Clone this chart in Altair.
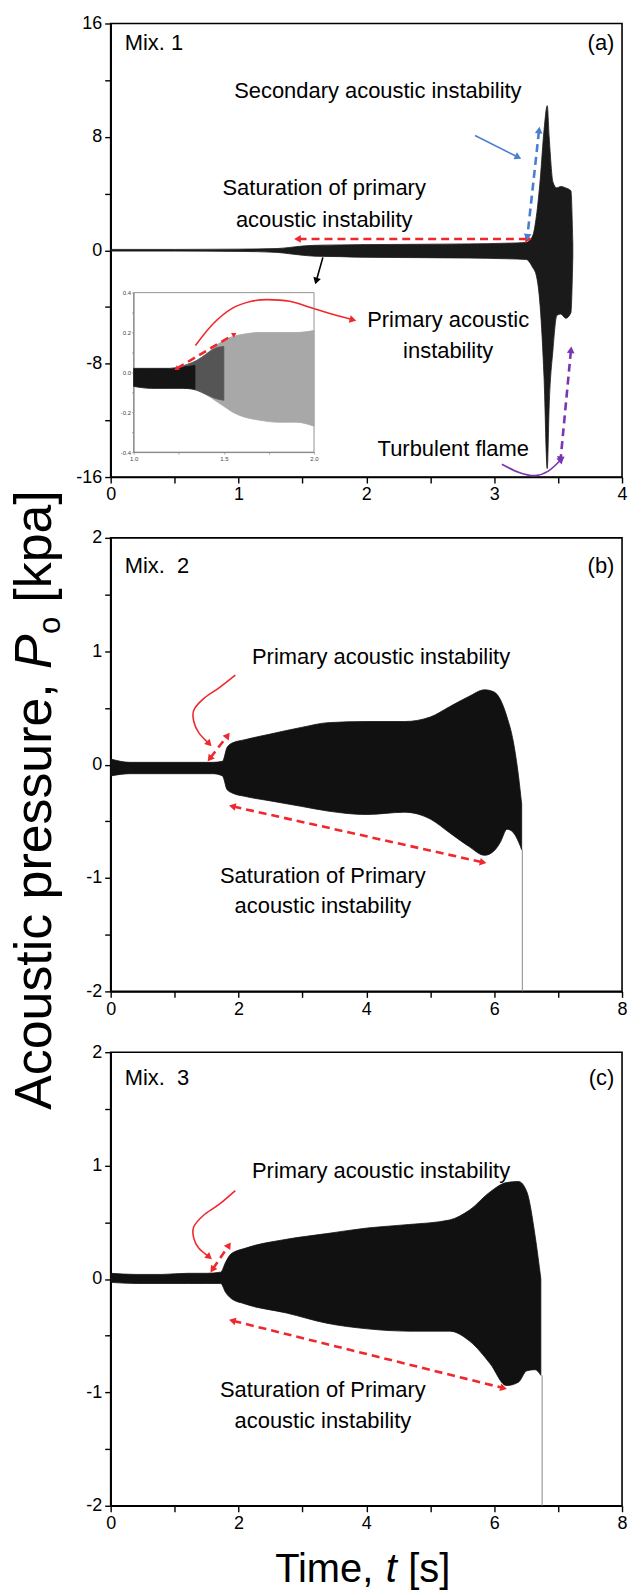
import math
import altair as alt
import pandas as pd

FONT = "Liberation Sans"
W, H = 513, 455
GAP = 61
RED, BLUE, PURPLE = "#f0282d", "#4a7fd0", "#7a35b0"

# ---------------- Panel (a): Mix. 1  (envelope of the trace, kPa) ----------------
a_time = [0.0, 0.5, 1.0, 1.3, 1.4, 1.5, 1.6, 1.8, 2.0, 2.4, 2.8, 3.1, 3.25, 3.30,
          3.33, 3.36, 3.39, 3.415, 3.43, 3.46, 3.49, 3.52, 3.56, 3.60, 3.615]
a_upper = [0.06, 0.06, 0.08, 0.12, 0.2, 0.3, 0.35, 0.38, 0.4, 0.42, 0.45, 0.5, 0.55, 1.0,
           2.4, 5.0, 8.5, 10.2, 8.0, 4.8, 4.4, 4.5, 4.4, 4.2, 0.5]
a_lower = [-0.06, -0.06, -0.08, -0.15, -0.25, -0.35, -0.42, -0.45, -0.5, -0.52, -0.55, -0.6, -0.65, -1.2,
           -1.8, -4.0, -9.0, -15.4, -11.0, -7.0, -4.6, -4.5, -4.8, -4.4, -0.5]

# inset of panel (a): zoom 1.0-2.0 s
ins_time = [1.0, 1.1, 1.2, 1.25, 1.3, 1.35, 1.4, 1.45, 1.5, 1.55, 1.6, 1.7, 1.8, 1.9, 2.0]
ins_upper = [0.02, 0.02, 0.02, 0.025, 0.04, 0.06, 0.09, 0.13, 0.16, 0.18, 0.19, 0.2, 0.2, 0.2, 0.21]
ins_lower = [-0.07, -0.08, -0.08, -0.08, -0.08, -0.09, -0.11, -0.14, -0.17, -0.2, -0.22, -0.24, -0.25, -0.25, -0.27]
ins_mid_time = [1.28, 1.35, 1.4, 1.45, 1.5]
ins_mid_upper = [0.035, 0.06, 0.09, 0.12, 0.13]
ins_mid_lower = [-0.08, -0.09, -0.11, -0.13, -0.14]
ins_dense_time = [1.0, 1.1, 1.2, 1.25, 1.3, 1.34]
ins_dense_upper = [0.02, 0.02, 0.02, 0.025, 0.03, 0.035]
ins_dense_lower = [-0.07, -0.08, -0.08, -0.08, -0.08, -0.085]

# ---------------- Panel (b): Mix. 2 ----------------
b_time = [0.0, 0.3, 0.8, 1.2, 1.6, 1.75, 1.82, 1.9, 2.1, 2.5, 3.0, 3.4, 4.0, 4.6, 5.0,
          5.3, 5.6, 5.85, 6.0, 6.1, 6.2, 6.3, 6.38, 6.43]
b_upper = [0.05, 0.02, 0.02, 0.02, 0.02, 0.03, 0.15, 0.19, 0.22, 0.27, 0.33, 0.37, 0.38, 0.38, 0.42,
           0.51, 0.6, 0.66, 0.64, 0.57, 0.42, 0.2, -0.1, -0.35]
b_lower = [-0.1, -0.08, -0.08, -0.08, -0.08, -0.1, -0.22, -0.25, -0.28, -0.32, -0.37, -0.41, -0.44, -0.42, -0.48,
           -0.6, -0.72, -0.8, -0.76, -0.68, -0.57, -0.6, -0.68, -0.75]
b_drop_time = [6.44]
b_drop_from = [-0.75]
b_drop_to = [-2.0]

# ---------------- Panel (c): Mix. 3 ----------------
c_time = [0.0, 0.4, 0.8, 1.2, 1.5, 1.72, 1.8, 1.88, 2.1, 2.75, 3.38, 4.02, 4.66, 5.3, 5.62,
          5.94, 6.19, 6.38, 6.51, 6.64, 6.73]
c_upper = [0.05, 0.04, 0.04, 0.05, 0.05, 0.06, 0.15, 0.22, 0.27, 0.35, 0.4, 0.45, 0.48, 0.52, 0.61,
           0.77, 0.85, 0.86, 0.77, 0.38, 0.0]
c_lower = [-0.03, -0.04, -0.04, -0.04, -0.04, -0.04, -0.12, -0.17, -0.22, -0.3, -0.39, -0.44, -0.46, -0.46, -0.55,
           -0.75, -0.94, -0.91, -0.81, -0.8, -0.85]
c_drop_time = [6.75]
c_drop_from = [-0.85]
c_drop_to = [-2.0]

# ---------------- tick values ----------------
a_x_ticks = [0, 0.5, 1, 1.5, 2, 2.5, 3, 3.5, 4]
a_x_major = [0, 1, 2, 3, 4]
a_y_ticks = [-16, -12, -8, -4, 0, 4, 8, 12, 16]
a_y_major = [-16, -8, 0, 8, 16]
bc_x_ticks = [0, 1, 2, 3, 4, 5, 6, 7, 8]
bc_x_major = [0, 2, 4, 6, 8]
bc_y_ticks = [-2, -1.5, -1, -0.5, 0, 0.5, 1, 1.5, 2]
bc_y_major = [-2, -1, 0, 1, 2]
ins_x_ticks = [1.0, 1.25, 1.5, 1.75, 2.0]
ins_x_major = [1.0, 1.5, 2.0]
ins_y_ticks = [-0.4, -0.3, -0.2, -0.1, 0.0, 0.1, 0.2, 0.3, 0.4]
ins_y_major = [-0.4, -0.2, 0.0, 0.2, 0.4]

# ---------------- annotations (data units) ----------------
a_labels = [(0.11, 14.6, "Mix. 1", "left"), (3.94, 14.6, "(a)", "right"),
            (2.09, 11.2, "Secondary acoustic instability", "center"),
            (1.67, 4.4, "Saturation of primary", "center"),
            (1.67, 2.15, "acoustic instability", "center"),
            (2.64, -4.9, "Primary acoustic", "center"),
            (2.64, -7.1, "instability", "center"),
            (2.68, -14.0, "Turbulent flame", "center")]
b_labels = [(0.22, 1.75, "Mix.\u00a0\u00a02", "left"), (7.88, 1.75, "(b)", "right"),
            (4.23, 0.95, "Primary acoustic instability", "center"),
            (3.32, -0.98, "Saturation of Primary", "center"),
            (3.32, -1.25, "acoustic instability", "center")]
c_labels = [(0.22, 1.77, "Mix.\u00a0\u00a03", "left"), (7.88, 1.77, "(c)", "right"),
            (4.23, 0.95, "Primary acoustic instability", "center"),
            (3.32, -0.98, "Saturation of Primary", "center"),
            (3.32, -1.25, "acoustic instability", "center")]

# arrows: (xs, ys, colour, dashed, heads)
a_arrows = [([1.47, 3.26], [0.8, 0.8], RED, True, ("start", "end")),
            ([1.66, 1.61], [-0.5, -2.1], "black", False, ("end",)),
            ([2.85, 3.18], [8.1, 6.6], BLUE, False, ("end",)),
            ([3.35, 3.26], [8.4, 1.0], BLUE, True, ("start", "end")),
            ([3.60, 3.52], [-7.1, -14.7], PURPLE, True, ("start", "end")),
            ([3.06, 3.2, 3.32, 3.42, 3.52], [-15.1, -15.7, -15.9, -15.6, -14.8], PURPLE, False, ("end",)),
            ([0.663, 0.80, 0.95, 1.1, 1.224, 1.4, 1.6, 1.75, 1.887],
             [-6.72, -5.2, -4.1, -3.6, -3.48, -3.6, -4.15, -4.55, -4.89], RED, False, ("end",))]
ins_arrows = [([1.24, 1.555], [0.02, 0.19], RED, True, ("start", "end"))]
b_arrows = [([1.95, 1.7, 1.45, 1.3, 1.3, 1.38, 1.53], [0.79, 0.68, 0.58, 0.48, 0.38, 0.28, 0.19], RED, False, ("end",)),
            ([1.56, 1.82], [0.06, 0.25], RED, True, ("start", "end")),
            ([1.92, 5.81], [-0.37, -0.86], RED, True, ("start", "end"))]
c_arrows = [([1.95, 1.7, 1.45, 1.3, 1.3, 1.38, 1.53], [0.78, 0.66, 0.56, 0.46, 0.36, 0.27, 0.2], RED, False, ("end",)),
            ([1.6, 1.84], [0.09, 0.29], RED, True, ("start", "end")),
            ([1.92, 6.13], [-0.37, -0.96], RED, True, ("start", "end"))]


def make_axis(values, major, orient, fmt=None, small=False, offset=0):
    lab = "toString(datum.value)" if fmt is None else \
        "replace(format(datum.value, '" + fmt + "'), '\u2212', '-')"
    expr = "indexof(" + str(list(major)) + ", datum.value) >= 0 ? " + lab + " : ''"
    if small:
        return alt.Axis(values=values, labelExpr=expr, orient=orient, title=None, grid=False,
                        labelFlush=False, labelOverlap=False, offset=offset,
                        domainColor="#777", domainWidth=0.8, tickColor="#777", tickWidth=0.6,
                        tickSize=2, labelFont=FONT, labelFontSize=6, labelColor="#444", labelPadding=1)
    return alt.Axis(values=values, labelExpr=expr, orient=orient, title=None, grid=False,
                    labelFlush=False, labelOverlap=False,
                    domainColor="black", domainWidth=1.6, tickColor="black", tickWidth=1.4,
                    tickSize=6, labelFont=FONT, labelFontSize=18, labelColor="black", labelPadding=3)


class Frame:
    def __init__(self, xdom, ydom, xaxis, yaxis, xpix=None, ypix=None):
        self.xdom, self.ydom, self.xaxis, self.yaxis = xdom, ydom, xaxis, yaxis
        self.xpix, self.ypix = xpix, ypix

    def X(self, f):
        sc = dict(domain=self.xdom, nice=False, zero=False)
        if self.xpix:
            sc["range"] = list(self.xpix)
        return alt.X(f, type="quantitative", scale=alt.Scale(**sc), axis=self.xaxis)

    def Y(self, f):
        sc = dict(domain=self.ydom, nice=False, zero=False)
        if self.ypix:
            sc["range"] = list(self.ypix)
        return alt.Y(f, type="quantitative", scale=alt.Scale(**sc), axis=self.yaxis)

    def screen(self, dx, dy):
        xr = self.xpix or (0, W)
        yr = self.ypix or (H, 0)
        sx = dx / (self.xdom[1] - self.xdom[0]) * (xr[1] - xr[0])
        sy = dy / (self.ydom[1] - self.ydom[0]) * (yr[1] - yr[0])
        return sx, sy


def envelope(fr, t, hi, lo, color):
    df = pd.DataFrame({"t": t, "hi": hi, "lo": lo})
    return alt.Chart(df).mark_area(color=color, stroke=color, strokeWidth=0.8,
                                   interpolate="monotone").encode(
        x=fr.X("t"), y=fr.Y("hi"), y2=alt.Y2("lo"))


def drop(fr, t, y0, y1):
    df = pd.DataFrame({"t": t, "y0": y0, "y1": y1})
    return alt.Chart(df).mark_rule(color="#8a8a8a", strokeWidth=1).encode(
        x=fr.X("t"), y=fr.Y("y0"), y2=alt.Y2("y1"))


def arrow_layers(fr, xs, ys, color, dashed, heads, head=60):
    df = pd.DataFrame({"x": xs, "y": ys, "i": list(range(len(xs)))})
    kw = dict(color=color, strokeWidth=(2.6 if dashed else 1.6))
    if dashed:
        kw["strokeDash"] = [8, 5]
    if len(xs) > 2:
        kw["interpolate"] = "cardinal"
    out = [alt.Chart(df).mark_line(**kw).encode(x=fr.X("x"), y=fr.Y("y"), order=alt.Order("i:Q"))]
    for h in heads:
        if h == "end":
            p, q = (xs[-2], ys[-2]), (xs[-1], ys[-1])
        else:
            p, q = (xs[1], ys[1]), (xs[0], ys[0])
        sx, sy = fr.screen(q[0] - p[0], q[1] - p[1])
        ang = math.degrees(math.atan2(sx, -sy)) % 360
        hd = pd.DataFrame({"x": [q[0]], "y": [q[1]]})
        out.append(alt.Chart(hd).mark_point(shape="triangle", filled=True, size=head, color=color,
                                            opacity=1, angle=round(ang, 1)).encode(
            x=fr.X("x"), y=fr.Y("y")))
    return out


def text_layers(fr, items, size=22):
    out = []
    for al in ("left", "center", "right"):
        rows = [r for r in items if r[3] == al]
        if not rows:
            continue
        df = pd.DataFrame({"x": [r[0] for r in rows], "y": [r[1] for r in rows],
                           "label": [r[2] for r in rows]})
        out.append(alt.Chart(df).mark_text(font=FONT, fontSize=size, align=al, baseline="middle",
                                           color="black").encode(
            x=fr.X("x"), y=fr.Y("y"), text=alt.Text("label:N")))
    return out


one = pd.DataFrame({"k": [0]})


def free_text(txt, x, y, size, angle=0, align="left", italic=False):
    kw = dict(text=txt, font=FONT, fontSize=size, align=align, baseline="alphabetic", color="black")
    if angle:
        kw["angle"] = angle
    if italic:
        kw["fontStyle"] = "italic"
    return alt.Chart(one).mark_text(**kw).encode(x=alt.value(x), y=alt.value(y))


# ---------------- panel (a) ----------------
fa = Frame([0, 4], [-16, 16], make_axis(a_x_ticks, a_x_major, "bottom"),
           make_axis(a_y_ticks, a_y_major, "left"))
a_main = [envelope(fa, a_time, a_upper, a_lower, "#1a1a1a")]
for ar in a_arrows:
    a_main += arrow_layers(fa, *ar)
a_main += text_layers(fa, a_labels)

fi = Frame([1.0, 2.0], [-0.4, 0.4],
           make_axis(ins_x_ticks, ins_x_major, "bottom", fmt=".1f", small=True, offset=-25),
           make_axis(ins_y_ticks, ins_y_major, "left", fmt=".1f", small=True, offset=-23),
           xpix=(23, 204), ypix=(430, 270))
box = pd.DataFrame({"x0": [1.0], "x1": [2.0], "y0": [-0.4], "y1": [0.4]})
ins = [alt.Chart(box).mark_rect(fillOpacity=0, stroke="#777", strokeWidth=0.8).encode(
           x=fi.X("x0"), x2=alt.X2("x1"), y=fi.Y("y0"), y2=alt.Y2("y1")),
       envelope(fi, ins_time, ins_upper, ins_lower, "#a8a8a8"),
       envelope(fi, ins_mid_time, ins_mid_upper, ins_mid_lower, "#555555"),
       envelope(fi, ins_dense_time, ins_dense_upper, ins_dense_lower, "#151515")]
for ar in ins_arrows:
    ins += arrow_layers(fi, *ar, head=30)

panel_a = alt.layer(alt.layer(*a_main), alt.layer(*ins)).resolve_scale(
    x="independent", y="independent").properties(width=W, height=H)

# ---------------- panel (b) ----------------
fb = Frame([0, 8], [-2, 2], make_axis(bc_x_ticks, bc_x_major, "bottom"),
           make_axis(bc_y_ticks, bc_y_major, "left"))
b_layers = [envelope(fb, b_time, b_upper, b_lower, "#111111"),
            drop(fb, b_drop_time, b_drop_from, b_drop_to)]
for ar in b_arrows:
    b_layers += arrow_layers(fb, *ar)
b_layers += text_layers(fb, b_labels)
# shared y title, rotated, placed in pixels relative to panel (b)
YT = 52
ybx = -60
b_layers += [free_text("Acoustic pressure,", ybx, 146, YT, angle=270, align="right"),
             free_text("P", ybx, 131.5, YT, angle=270, align="left", italic=True),
             free_text("o", ybx + 9, 96.5, YT * 0.6, angle=270, align="left"),
             free_text("[kpa]", ybx, 65, YT, angle=270, align="left")]
panel_b = alt.layer(*b_layers).properties(width=W, height=H)

# ---------------- panel (c) ----------------
fc = Frame([0, 8], [-2, 2], make_axis(bc_x_ticks, bc_x_major, "bottom"),
           make_axis(bc_y_ticks, bc_y_major, "left"))
c_layers = [envelope(fc, c_time, c_upper, c_lower, "#111111"),
            drop(fc, c_drop_time, c_drop_from, c_drop_to)]
for ar in c_arrows:
    c_layers += arrow_layers(fc, *ar)
c_layers += text_layers(fc, c_labels)
XT = 40
xty = 531
c_layers += [free_text("Time,", 165, xty, XT, align="left"),
             free_text("t", 276, xty, XT, align="left", italic=True),
             free_text("[s]", 298.5, xty, XT, align="left")]
panel_c = alt.layer(*c_layers).properties(width=W, height=H)

chart = alt.vconcat(panel_a, panel_b, panel_c, spacing=GAP, bounds="flush").properties(
    padding={"left": 0, "top": 3, "right": 5, "bottom": 2}
).configure_view(stroke="black", strokeWidth=1.6)

chart.save("out.html", embed_options={"renderer": "svg", "actions": False})
